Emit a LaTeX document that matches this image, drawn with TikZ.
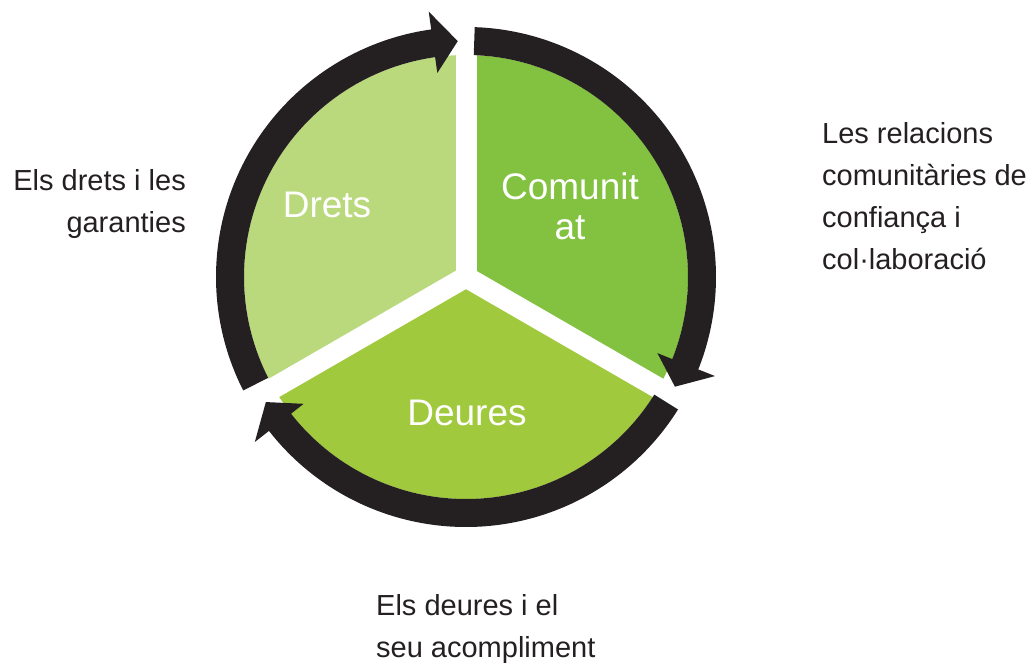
\documentclass[tikz,border=0pt]{standalone}
\usepackage{fontspec}
\setmainfont{Liberation Sans}
\definecolor{dretsg}{rgb}{0.73,0.85,0.49}
\definecolor{comung}{rgb}{0.51,0.76,0.25}
\definecolor{deuresg}{rgb}{0.63,0.79,0.24}
\definecolor{ringk}{rgb}{0.14,0.12,0.13}
\begin{document}
\begin{tikzpicture}[line cap=butt,line join=miter,x=1pt,y=1pt,
  pielabel/.style={text=white,inner sep=0pt,font=\fontsize{37}{40}\selectfont},
  sidelabel/.style={text=ringk,inner sep=0pt,font=\fontsize{29}{42}\selectfont}]
\useasboundingbox (0,0) rectangle (1036,664);
\coordinate (O) at (466,387);
%sectors
\fill [color=dretsg,shift={(O)}] (0,0) -- (90:222) arc (90:210:222) -- cycle;
\fill [color=deuresg,shift={(O)}] (0,0) -- (210:222) arc (210:330:222) -- cycle;
\fill [color=comung,shift={(O)}] (0,0) -- (-30:222) arc (-30:90:222) -- cycle;
\foreach \a in {90,210,330}
\draw [color=white,line width=21pt] (O) -- ++(\a:223);
%ring arrows
\foreach \s/\t in {207/92,88/-27.7,-32/-148}
{
\pgfmathsetmacro\h{\t+6}
\fill [color=ringk,shift={(O)}] (\s:250) arc (\s:\h:250) -- (\h:268) -- (\t:236) -- (\h:206) -- (\h:222) arc (\h:\s:222) -- cycle;
}
\node[pielabel] (drets) at (327,459) {Drets};
\node[pielabel,align=center] (comunitat) at (570,458) {Comunit\\at};
\node[pielabel] (deures) at (467,251) {Deures};
\node[sidelabel,anchor=east,align=right] (dretstxt) at (186,460) {Els drets i les\\garanties};
\node[sidelabel,anchor=west,align=left] (comuntxt) at (822,468) {Les relacions\\comunitàries de\\confiança i\\col·laboració};
\node[sidelabel,anchor=west,align=left] (deurestxt) at (376,35) {Els deures i el\\seu acompliment};
\end{tikzpicture}
\end{document}
